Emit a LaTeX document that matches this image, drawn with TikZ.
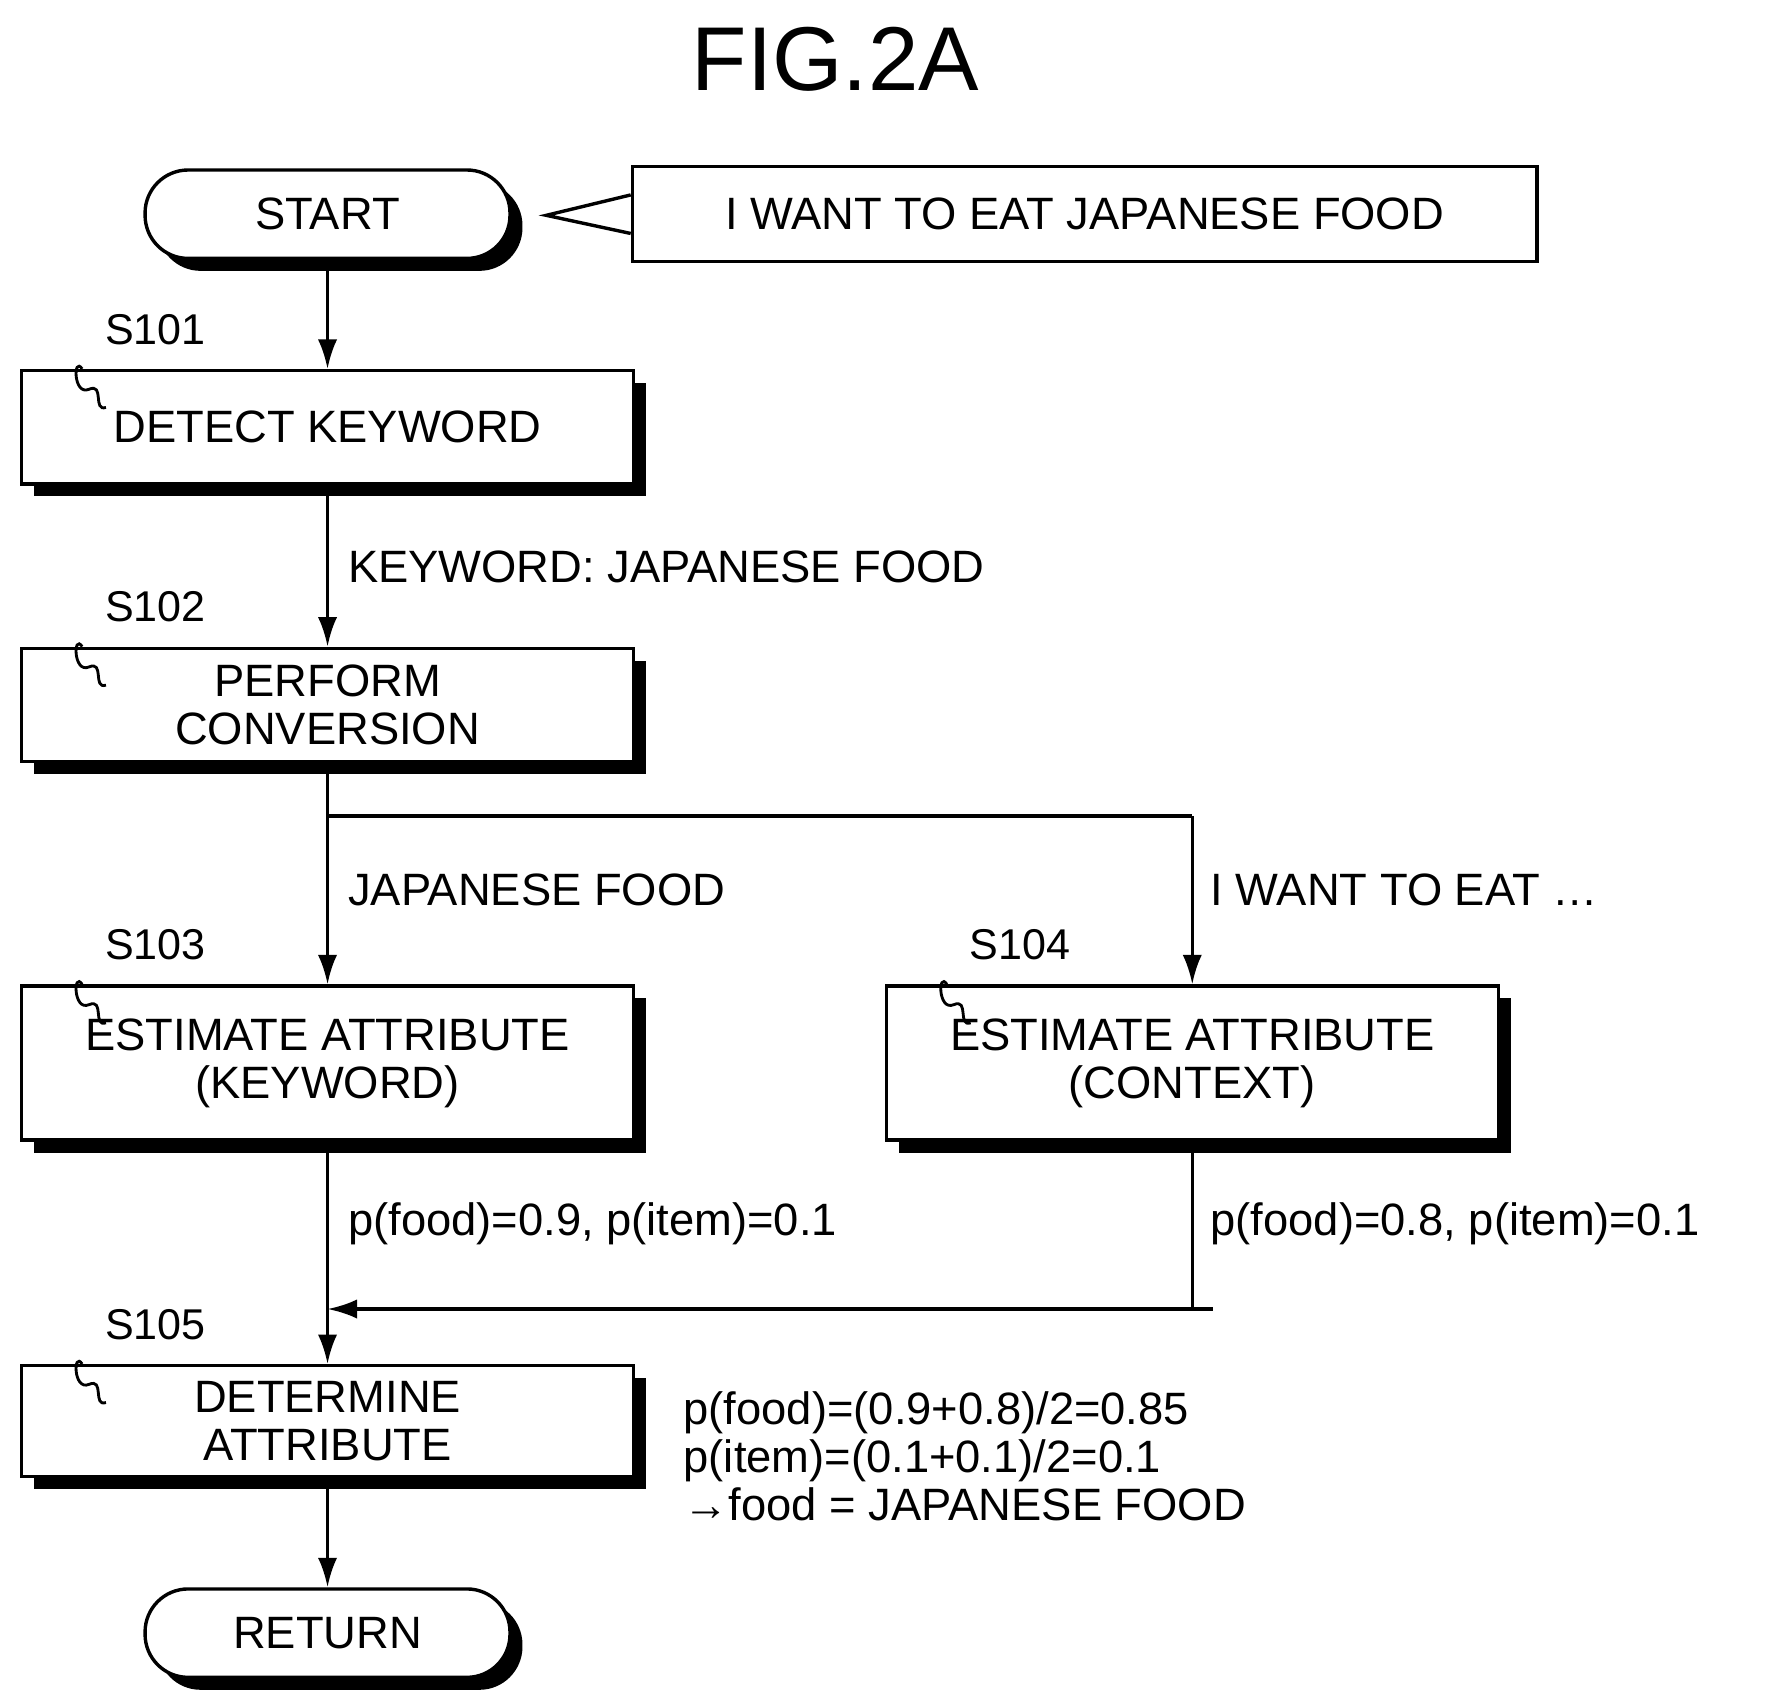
\documentclass[tikz,border=0pt]{standalone}
\usepackage{fontspec}
\setmainfont{Liberation Sans}
\usetikzlibrary{arrows.meta, positioning, shadows}

\tikzset{
    box/.style={draw, line width=3pt, fill=white, minimum width=540pt, minimum height=100pt,
        align=center, font=\fontsize{40}{42}\selectfont,
        drop shadow={shadow xshift=11pt, shadow yshift=-11pt, fill=black, opacity=1}},
    term/.style={box, minimum width=322pt, minimum height=78pt, rounded corners=38pt},
    lbl/.style={anchor=west, font=\fontsize{40}{42}\selectfont, inner sep=0pt, align=left},
    steplbl/.style={anchor=west, font=\fontsize{38}{40}\selectfont, inner sep=0pt},
    arr/.style={line width=3pt, -{Latex[length=26pt, width=17pt]}},
    ln/.style={line width=3pt}
}
% squiggle tag above the top left corner of a box
\newcommand{\steptag}[2]{%
    \draw[line width=2.5pt] ([xshift=55pt]#1.north west) .. controls +(-8,-12) and +(-14,6) .. ++(6pt,-18pt)
        .. controls +(14,-6) and +(-12,4) .. ++(15pt,-16pt);
    \node[steplbl] at ([xshift=75pt, yshift=35pt]#1.north west) {#2};
}

\begin{document}
\begin{tikzpicture}[x=1pt, y=-1pt]
    \useasboundingbox (0,0) rectangle (1560,1503);
    \node[font=\fontsize{80}{84}\selectfont] (title) at (737,52) {FIG.2A};

    \node[term] (start) at (289,189) {START};
    \node[draw, line width=3pt, minimum width=798pt, minimum height=84pt,
        font=\fontsize{40}{42}\selectfont] (said) at (957,189) {I WANT TO EAT JAPANESE FOOD};
    \draw[line width=3pt, fill=white] ([yshift=17pt]said.west) -- (482,190) -- ([yshift=-17pt]said.west);

    \node[box] (s101) at (289,377) {DETECT KEYWORD};
    \node[box] (s102) at (289,622) {PERFORM\\CONVERSION};
    \node[box, minimum height=136pt] (s103) at (289,938) {ESTIMATE ATTRIBUTE\\(KEYWORD)};
    \node[box, minimum height=136pt] (s104) at (1052,938) {ESTIMATE ATTRIBUTE\\(CONTEXT)};
    \node[box, minimum height=98pt] (s105) at (289,1254) {DETERMINE\\ATTRIBUTE};
    \node[term] (return) at (289,1441) {RETURN};

    \steptag{s101}{S101}
    \steptag{s102}{S102}
    \steptag{s103}{S103}
    \steptag{s104}{S104}
    \steptag{s105}{S105}

    \coordinate (split) at (289,720);
    \coordinate (join) at (289,1155);

    \draw[arr] (start) -- (s101);
    \draw[arr] (s101) -- (s102);
    \draw[arr] (s102) -- (s103);
    \draw[ln] (split) -| (1052,720);
    \draw[arr] (1052,720) -- (s104);
    \draw[arr] (s103) -- (s105);
    \draw[ln] (s104) |- (1070,1155);
    \draw[arr] (1052,1155) -- (join);
    \draw[arr] (s105) -- (return);

    \node[lbl] (kw) at (307,500) {KEYWORD: JAPANESE FOOD};
    \node[lbl] (jf) at (307,785) {JAPANESE FOOD};
    \node[lbl] (ctx) at (1068,785) {I WANT TO EAT \ldots};
    \node[lbl] (pk) at (307,1080) {p(food)=0.9, p(item)=0.1};
    \node[lbl] (pc) at (1068,1080) {p(food)=0.8, p(item)=0.1};
    \node[lbl, anchor=north west, font=\fontsize{40}{42}\selectfont] (res) at (603,1228)
        {p(food)=(0.9+0.8)/2=0.85\\p(item)=(0.1+0.1)/2=0.1\\→food = JAPANESE FOOD};
\end{tikzpicture}
\end{document}
